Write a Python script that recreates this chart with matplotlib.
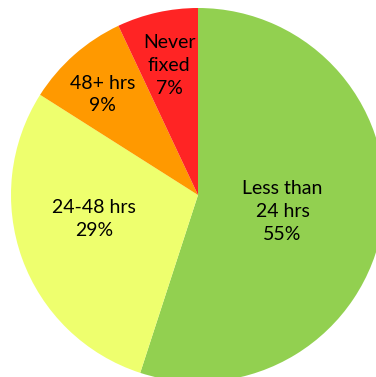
import numpy as np
import matplotlib
matplotlib.use('Agg')
import matplotlib.pyplot as plt

# data
categories = ['Less than\n24 hrs', '24-48 hrs', '48+ hrs', 'Never\nfixed']
shares = [55, 29, 9, 7]
colors = ['#92D050', '#EEFF6E', '#FF9900', '#FF2424']

# label placement (fraction of radius, angle nudge in degrees)
label_r = [0.46, 0.57, 0.74, 0.71]
label_nudge = [-2, -7, 2, 0]

W, H = 376, 377
cx, cy = 198, 195   # pie centre in pixels from top-left
radius = 187

fig = plt.figure(figsize=(W / 100, H / 100), dpi=100)
ax = fig.add_axes([0, 0, 1, 1])
ax.set_xlim(-cx, W - cx)
ax.set_ylim(-(H - cy), cy)
ax.set_aspect('equal')

wedges, _ = ax.pie(shares, colors=colors, startangle=90, counterclock=False,
                   radius=radius, center=(0, 0), frame=True,
                   wedgeprops=dict(linewidth=0))
ax.axis('off')

for w, name, val, r, nd in zip(wedges, categories, shares, label_r, label_nudge):
    ang = np.deg2rad((w.theta1 + w.theta2) / 2 + nd)
    x = r * radius * np.cos(ang)
    y = r * radius * np.sin(ang)
    ax.text(x, y, f'{name}\n{val}%', ha='center', va='center',
            fontsize=14, family=['Lato', 'DejaVu Sans'], color='black',
            linespacing=1.42)

fig.savefig('out.png', dpi=100)
